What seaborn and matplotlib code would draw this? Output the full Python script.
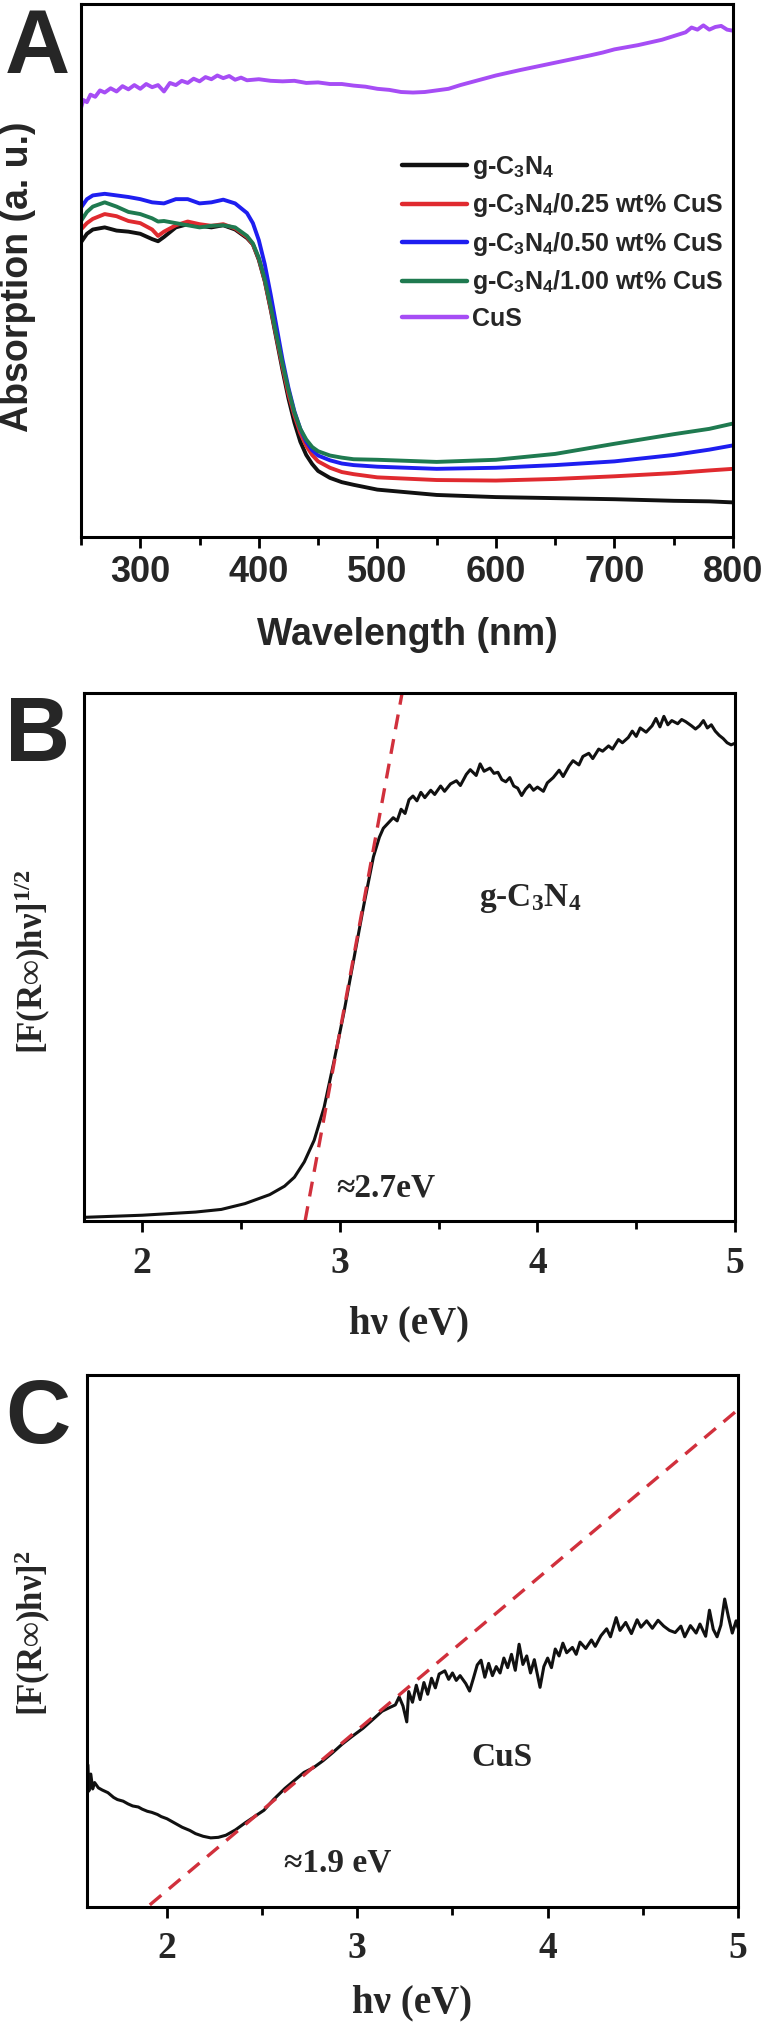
import numpy as np
import pandas as pd
import seaborn as sns
import matplotlib.pyplot as plt
from matplotlib.ticker import MultipleLocator

# ---- Panel A: UV-vis absorption spectra (arbitrary units, 0-100 of axis height)
wl_cus = [250, 252, 255, 258, 262, 266, 270, 275, 280, 285, 290, 295, 300, 305, 310, 315, 320,
          325, 330, 335, 340, 345, 350, 355, 360, 365, 370, 375, 380, 385, 390, 400, 410, 420,
          430, 440, 450, 460, 470, 480, 490, 500, 510, 520, 530, 540, 550, 560, 570, 580, 590,
          600, 610, 620, 635, 650, 665, 680, 690, 700, 710, 720, 730, 740, 750, 760, 765, 770,
          775, 780, 785, 790, 795, 800]
abs_cus = [80.5, 82.0, 81.6, 83.0, 82.6, 83.8, 83.4, 84.2, 83.6, 84.6, 84.0, 84.8, 84.1, 85.0,
           84.4, 84.8, 83.6, 85.2, 84.8, 85.6, 85.2, 86.0, 85.5, 86.3, 85.9, 86.6, 86.1, 86.5,
           85.8, 86.2, 85.7, 85.9, 85.6, 85.5, 85.6, 85.2, 85.3, 85.0, 85.0, 84.7, 84.5, 84.1,
           83.9, 83.5, 83.4, 83.5, 83.8, 84.1, 84.8, 85.4, 86.0, 86.6, 87.1, 87.6, 88.3, 89.0,
           89.7, 90.4, 90.9, 91.5, 91.9, 92.3, 92.8, 93.3, 94.0, 94.7, 95.6, 95.2, 96.0, 95.2,
           95.7, 95.9, 95.2, 95.0]

wl = [250, 255, 260, 270, 280, 290, 300, 310, 315, 320, 330, 340, 350, 360, 370, 380, 390, 395,
      400, 405, 410, 415, 420, 425, 430, 435, 440, 445, 450, 460, 470, 480, 500, 550, 600, 650,
      700, 750, 780, 800]
abs_gcn = [55.3, 56.9, 57.7, 58.1, 57.5, 57.3, 56.9, 55.9, 55.5, 56.3, 58.1, 58.7, 58.4, 58.1,
           58.5, 57.7, 56.1, 54.9, 52.0, 48.0, 42.7, 37.0, 31.3, 26.0, 21.5, 17.9, 15.4, 13.7,
           12.4, 11.1, 10.3, 9.8, 8.9, 7.9, 7.5, 7.3, 7.1, 6.8, 6.7, 6.5]
abs_025 = [57.7, 58.9, 59.7, 60.6, 60.2, 59.3, 58.9, 57.7, 56.5, 57.3, 58.5, 59.2, 58.7, 58.4,
           58.7, 57.9, 56.3, 54.9, 52.2, 48.1, 42.9, 37.4, 31.9, 26.8, 22.8, 19.5, 17.1, 15.4,
           14.2, 13.0, 12.2, 11.8, 11.2, 10.7, 10.6, 10.9, 11.4, 12.0, 12.5, 12.8]
abs_050 = [61.8, 63.4, 64.1, 64.4, 64.1, 63.8, 63.4, 62.8, 62.7, 62.6, 63.4, 63.4, 62.6, 62.8,
           63.3, 62.6, 60.8, 58.9, 55.7, 51.2, 45.5, 39.4, 33.3, 28.0, 23.6, 20.3, 17.9, 16.3,
           15.3, 14.4, 13.8, 13.5, 13.2, 12.8, 13.0, 13.5, 14.2, 15.4, 16.4, 17.2]
abs_100 = [59.3, 61.0, 62.0, 62.8, 62.0, 61.0, 60.6, 59.8, 59.2, 59.3, 58.9, 58.5, 58.1, 58.4,
           58.5, 58.1, 56.5, 55.1, 52.4, 48.4, 43.3, 37.8, 32.5, 27.6, 23.4, 20.3, 18.3, 16.9,
           16.1, 15.3, 14.9, 14.6, 14.5, 14.1, 14.5, 15.6, 17.5, 19.3, 20.3, 21.3]

labels_a = ["g-C$_\\mathsf{3}$N$_\\mathsf{4}$",
            "g-C$_\\mathsf{3}$N$_\\mathsf{4}$/0.25 wt% CuS",
            "g-C$_\\mathsf{3}$N$_\\mathsf{4}$/0.50 wt% CuS",
            "g-C$_\\mathsf{3}$N$_\\mathsf{4}$/1.00 wt% CuS",
            "CuS"]
colors_a = ["#111111", "#e02a2f", "#1e1ef0", "#1f7a50", "#a64df5"]

# ---- Panel B: Tauc plot of g-C3N4
ev_b = [1.707, 2.0, 2.27, 2.40, 2.52, 2.645, 2.72, 2.77, 2.82, 2.87, 2.92, 2.97, 3.02, 3.07,
        3.12, 3.17, 3.20, 3.22, 3.25, 3.27, 3.29, 3.31, 3.33, 3.35, 3.37, 3.39, 3.41, 3.43,
        3.46, 3.48, 3.51, 3.53, 3.56, 3.59, 3.61, 3.64, 3.66, 3.69, 3.71, 3.73, 3.76, 3.78,
        3.80, 3.82, 3.84, 3.86, 3.88, 3.90, 3.92, 3.94, 3.96, 3.98, 4.00, 4.03, 4.05, 4.08,
        4.11, 4.13, 4.16, 4.18, 4.21, 4.23, 4.26, 4.28, 4.31, 4.33, 4.36, 4.38, 4.41, 4.43,
        4.46, 4.48, 4.50, 4.52, 4.55, 4.58, 4.60, 4.62, 4.64, 4.66, 4.68, 4.71, 4.73, 4.75,
        4.78, 4.80, 4.82, 4.84, 4.86, 4.88, 4.90, 4.92, 4.94, 4.96, 4.98, 5.0]
tauc_b = [0.7, 1.1, 1.7, 2.2, 3.3, 5.0, 6.6, 8.3, 11.2, 15.3, 21.5, 30.2, 39.4, 49.5, 59.6,
          69.0, 72.7, 74.4, 75.6, 76.4, 75.8, 78.0, 77.2, 79.8, 80.5, 79.6, 81.2, 80.2, 81.6,
          80.8, 82.4, 81.4, 82.8, 83.4, 82.5, 84.6, 85.5, 84.4, 86.6, 85.2, 85.8, 84.8, 85.0,
          83.6, 83.2, 84.0, 82.4, 82.0, 80.6, 81.8, 82.6, 81.6, 82.2, 81.4, 83.0, 84.0, 85.4,
          84.2, 86.2, 87.2, 86.4, 88.0, 88.6, 87.6, 89.4, 89.0, 90.0, 89.4, 91.2, 90.6, 91.6,
          92.8, 91.8, 93.4, 92.6, 93.8, 95.2, 93.6, 95.6, 94.0, 94.8, 94.2, 95.0, 94.6, 93.8,
          93.2, 93.8, 94.8, 93.4, 94.0, 92.8, 92.0, 91.4, 90.6, 90.2, 90.5]
fit_b_x = [2.824, 3.315]
fit_b_y = [0, 100]

# ---- Panel C: Tauc plot of CuS
ev_c = [1.585, 1.59, 1.60, 1.61, 1.62, 1.64, 1.66, 1.69, 1.72, 1.74, 1.77, 1.795, 1.82, 1.85,
        1.87, 1.897, 1.92, 1.95, 1.97, 2.0, 2.04, 2.08, 2.12, 2.15, 2.19, 2.23, 2.27, 2.31,
        2.36, 2.41, 2.46, 2.51, 2.56, 2.62, 2.67, 2.72, 2.77, 2.82, 2.87, 2.92, 2.97, 3.03,
        3.08, 3.13, 3.17, 3.20, 3.22, 3.24, 3.26, 3.27, 3.29, 3.31, 3.33, 3.35, 3.37, 3.39,
        3.41, 3.43, 3.46, 3.48, 3.50, 3.52, 3.54, 3.57, 3.59, 3.61, 3.63, 3.65, 3.67, 3.69,
        3.71, 3.73, 3.75, 3.77, 3.79, 3.81, 3.83, 3.85, 3.87, 3.89, 3.91, 3.93, 3.96, 3.98,
        4.00, 4.02, 4.04, 4.06, 4.08, 4.10, 4.13, 4.15, 4.17, 4.20, 4.23, 4.25, 4.28, 4.31,
        4.33, 4.36, 4.38, 4.41, 4.44, 4.47, 4.49, 4.52, 4.55, 4.58, 4.61, 4.64, 4.67, 4.70,
        4.72, 4.75, 4.78, 4.80, 4.83, 4.85, 4.87, 4.89, 4.91, 4.93, 4.95, 4.97, 4.99, 5.0]
tauc_c = [26.7, 21.8, 25.0, 22.2, 23.4, 22.4, 22.0, 21.5, 20.6, 20.2, 19.9, 19.4, 19.0, 18.8,
          18.4, 18.0, 17.8, 17.4, 17.0, 16.6, 15.8, 15.0, 14.4, 13.8, 13.3, 13.0, 13.1, 13.5,
          14.5, 15.8, 17.0, 18.2, 20.2, 22.3, 23.8, 25.3, 26.2, 27.5, 29.0, 30.6, 32.0, 33.6,
          35.2, 36.8, 37.5, 38.0, 39.5, 37.8, 34.8, 40.5, 38.5, 41.7, 39.0, 42.2, 40.0, 43.0,
          41.2, 43.8, 44.4, 42.8, 44.0, 42.6, 43.5, 42.0, 40.6, 43.0, 45.5, 46.4, 43.2, 45.8,
          43.5, 45.2, 44.0, 46.8, 45.0, 47.5, 44.5, 49.4, 45.6, 47.2, 44.0, 46.5, 41.3, 45.2,
          46.8, 45.0, 48.5, 47.2, 49.6, 47.8, 48.8, 47.5, 49.8, 48.6, 50.2, 49.0, 51.0, 52.3,
          50.8, 54.4, 52.0, 53.5, 51.4, 54.0, 52.6, 53.8, 52.4, 53.9, 52.8, 52.0, 51.6, 52.8,
          50.8, 52.9, 51.5, 53.2, 50.9, 55.8, 52.2, 50.8, 53.0, 57.9, 54.5, 51.5, 53.8, 52.5]
fit_c_x = [1.91, 5.0]
fit_c_y = [0.4, 93.5]

sns.set_style("ticks")
plt.rcParams["font.family"] = ["Liberation Sans", "DejaVu Sans"]
plt.rcParams["font.weight"] = "bold"
plt.rcParams["axes.labelweight"] = "bold"
plt.rcParams["mathtext.fontset"] = "custom"
plt.rcParams["mathtext.rm"] = "Liberation Serif:bold"
plt.rcParams["mathtext.it"] = "Liberation Serif:bold:italic"
plt.rcParams["mathtext.bf"] = "Liberation Serif:bold"
plt.rcParams["mathtext.sf"] = "Liberation Sans:bold"

SERIF = ["Liberation Serif", "DejaVu Serif"]
fit_color = "#d1303c"

fig = plt.figure(figsize=(7.67, 20.32), dpi=100)
ax_a = fig.add_axes([0.1056, 0.7357, 0.8501, 0.2623])
ax_b = fig.add_axes([0.1095, 0.3991, 0.8488, 0.2598])
ax_c = fig.add_axes([0.1134, 0.0615, 0.8488, 0.2618])


def style_axis(ax):
    for sp in ax.spines.values():
        sp.set_linewidth(2.2)
        sp.set_color("black")
    ax.set_yticks([])
    ax.tick_params(axis="x", which="major", direction="out", length=8, width=2, color="black")
    ax.tick_params(axis="x", which="minor", direction="out", length=6, width=2, color="black")


# Panel A
series_a = [abs_gcn, abs_025, abs_050, abs_100]
for vals, lab, col in zip(series_a, labels_a[:4], colors_a[:4]):
    sns.lineplot(x=wl, y=vals, ax=ax_a, color=col, lw=2.8, label=lab)
sns.lineplot(x=wl_cus, y=abs_cus, ax=ax_a, color=colors_a[4], lw=2.8, label=labels_a[4])
ax_a.set_xlim(250, 800)
ax_a.set_ylim(0, 100)
style_axis(ax_a)
ax_a.xaxis.set_major_locator(MultipleLocator(100))
ax_a.xaxis.set_minor_locator(MultipleLocator(50))
ax_a.set_xticks([300, 400, 500, 600, 700, 800])
ax_a.tick_params(axis="x", labelsize=26, pad=5)
ax_a.set_xlabel("Wavelength (nm)", fontsize=27)
ax_a.set_ylabel("Absorption (a. u.)", fontsize=27)
ax_a.xaxis.set_label_coords(0.5, -0.150)
ax_a.yaxis.set_label_coords(-0.069, 0.488)
leg = ax_a.legend(loc="upper left", bbox_to_anchor=(0.492, 0.719), frameon=False,
                  fontsize=18, handlelength=2.6, handletextpad=0.2, labelspacing=0.42,
                  borderaxespad=0, borderpad=0)
for line in leg.get_lines():
    line.set_linewidth(3.2)

# Panel B
sns.lineplot(x=ev_b, y=tauc_b, ax=ax_b, color="#111111", lw=2.2)
sns.lineplot(x=fit_b_x, y=fit_b_y, ax=ax_b, color=fit_color, lw=2.4, linestyle=(0, (4.5, 3)))
ax_b.set_xlim(1.705, 5.0)
ax_b.set_ylim(0, 100)
style_axis(ax_b)
ax_b.xaxis.set_major_locator(MultipleLocator(1))
ax_b.xaxis.set_minor_locator(MultipleLocator(0.5))
ax_b.tick_params(axis="x", labelsize=27, pad=10, labelfontfamily="Liberation Serif")
ax_b.set_xlabel("h\u03bd (eV)", fontsize=28, family=SERIF)
ax_b.set_ylabel("[F(R\u221e)h\u03bd]$^{1/2}$", fontsize=25, family=SERIF)
ax_b.xaxis.set_label_coords(0.5, -0.160)
ax_b.yaxis.set_label_coords(-0.048, 0.492)
ax_b.text(3.705, 59.7, "g-C$_3$N$_4$", fontsize=24, family=SERIF, ha="left", va="baseline")
ax_b.text(2.984, 4.7, "\u22482.7eV", fontsize=24, family=SERIF, ha="left", va="baseline")

# Panel C
sns.lineplot(x=ev_c, y=tauc_c, ax=ax_c, color="#111111", lw=2.2)
sns.lineplot(x=fit_c_x, y=fit_c_y, ax=ax_c, color=fit_color, lw=2.4, linestyle=(0, (4.5, 3)))
ax_c.set_xlim(1.58, 5.0)
ax_c.set_ylim(0, 100)
style_axis(ax_c)
ax_c.xaxis.set_major_locator(MultipleLocator(1))
ax_c.xaxis.set_minor_locator(MultipleLocator(0.5))
ax_c.tick_params(axis="x", labelsize=27, pad=9, labelfontfamily="Liberation Serif")
ax_c.set_xlabel("h\u03bd (eV)", fontsize=28, family=SERIF)
ax_c.set_ylabel("[F(R\u221e)h\u03bd]$^{2}$", fontsize=25, family=SERIF)
ax_c.xaxis.set_label_coords(0.5, -0.145)
ax_c.yaxis.set_label_coords(-0.052, 0.515)
ax_c.text(3.60, 26.5, "CuS", fontsize=24, family=SERIF, ha="left", va="baseline")
ax_c.text(2.617, 6.6, "\u22481.9 eV", fontsize=24, family=SERIF, ha="left", va="baseline")

# Panel letters
for letter, ytop in [("A", 7), ("B", 695), ("C", 1377)]:
    fig.text(5 / 767, 1 - ytop / 2032, letter, fontsize=65, fontweight="bold",
             ha="left", va="top")

fig.savefig("out.png", dpi=100)
